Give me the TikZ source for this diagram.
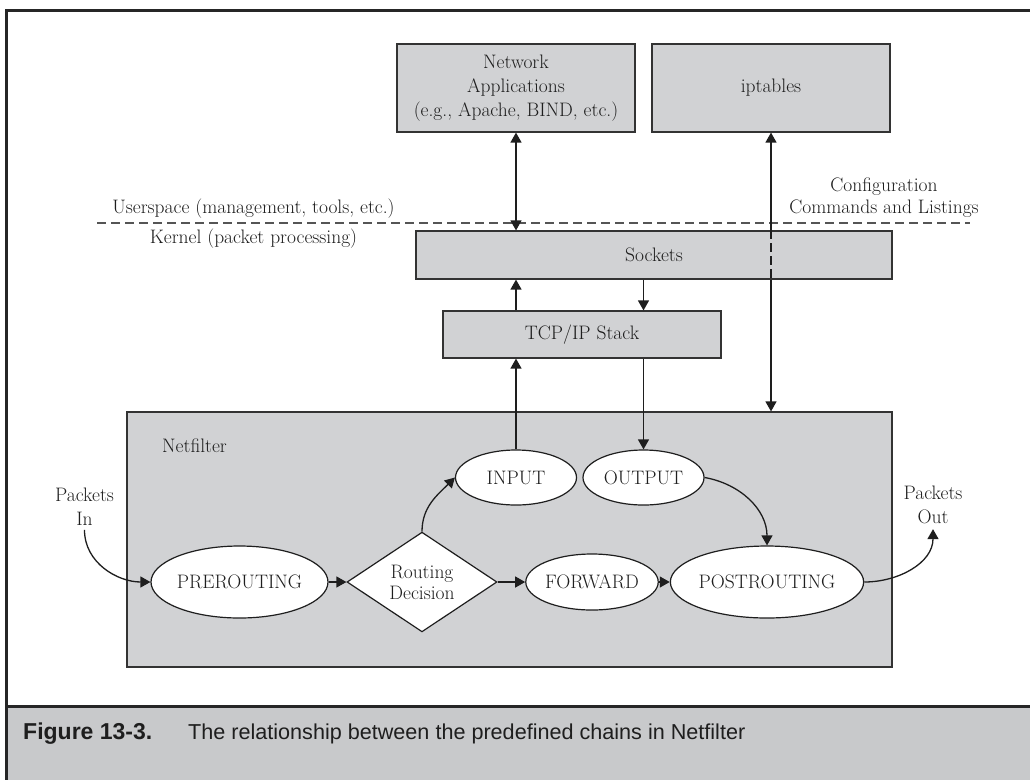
\documentclass[tikz,border=0pt]{standalone}
\usepackage{fontspec}
\newfontfamily\capsans{Liberation Sans}
\usetikzlibrary{shapes.geometric,arrows.meta,calc}
\definecolor{boxgray}{HTML}{D1D2D4}
\definecolor{capgray}{HTML}{C8C9CB}
\definecolor{edge}{HTML}{333333}
\definecolor{ink}{HTML}{1E1E1E}
\definecolor{dashgray}{HTML}{555555}
\begin{document}
\begin{tikzpicture}[x=1pt,y=-1pt,
  every node/.style={font=\fontsize{19.5}{24}\selectfont, text=ink},
  graybox/.style={draw=edge, line width=1.2pt, fill=boxgray, rectangle, inner sep=0pt, align=center},
  chainnode/.style={draw=ink, line width=1.2pt, fill=white, ellipse, inner sep=0pt},
  decision/.style={draw=ink, line width=1.2pt, fill=white, diamond, inner sep=0pt, align=center},
  conn/.style={draw=ink, line width=1.3pt, -{Triangle[length=10pt,width=11pt]}},
  biconn/.style={draw=ink, line width=1.3pt, {Triangle[length=10pt,width=11pt]}-{Triangle[length=10pt,width=11pt]}},
  frameline/.style={draw=black!85, line width=3pt, line join=miter},
  lbl/.style={align=center, inner sep=0pt},
]
\useasboundingbox (0,0) rectangle (1030,780);
\fill[white] (0,0) rectangle (1030,780);
% caption band and frame
\fill[capgray] (6,706) rectangle (1030,780);
\draw[frameline] (1030,10) -- (6,10) -- (6,780);
\draw[frameline] (6,706) -- (1030,706);

% boxes
\node[graybox, minimum width=238pt, minimum height=88pt] (na) at (516,88)
  {Network\\Applications\\(e.g., Apache, BIND, etc.)};
\node[graybox, minimum width=238pt, minimum height=88pt] (ipt) at (771,88) {iptables};
\node[graybox, minimum width=476pt, minimum height=48pt] (sock) at (654,255) {Sockets};
\node[graybox, minimum width=278pt, minimum height=47pt] (tcp) at (582,334.5) {TCP/IP Stack};
\node[graybox, minimum width=765pt, minimum height=255pt] (netf) at (509.5,539.5) {};
\node[lbl, anchor=base west] (netflbl) at (162,452) {Netfilter};

% chains
\node[chainnode, minimum width=121pt, minimum height=55pt] (input) at (516,477.5) {INPUT};
\node[chainnode, minimum width=121pt, minimum height=55pt] (output) at (643.5,477.5) {OUTPUT};
\node[chainnode, minimum width=161pt, minimum height=72pt] (pre) at (239.5,582) {PREROUTING};
\node[decision, minimum width=150pt, minimum height=88pt, font=\fontsize{19.5}{21}\selectfont] (rd) at (422,582) {Routing\\Decision};
\node[chainnode, minimum width=132pt, minimum height=56pt] (fwd) at (592,582) {FORWARD};
\node[chainnode, minimum width=162pt, minimum height=72pt] (post) at (767,582) {POSTROUTING};

% free labels
\node[lbl, anchor=base] (usp) at (253.5,213) {Userspace (management, tools, etc.)};
\node[lbl, anchor=base] (kern) at (253.5,243) {Kernel (packet processing)};
\node[lbl, font=\fontsize{19.5}{22}\selectfont] (conf) at (884,198) {Configuration\\Commands and Listings};
\node[lbl, inner sep=4pt] (pin) at (84.5,507) {Packets\\In};
\node[lbl, inner sep=5pt] (pout) at (933,505) {Packets\\Out};

% user/kernel boundary
\coordinate (dl) at (97,223);
\coordinate (dr) at (970,223);
\draw[dashgray, line width=1.3pt, dash pattern=on 9pt off 5pt] (dl) -- (dr);

% connectors
\draw[biconn] (na.south) -- (na.south |- sock.north);
\draw[conn] (tcp.north -| input.north) -- (sock.south -| input.north);
\draw[conn] (sock.south -| output.north) -- (tcp.north -| output.north);
\draw[conn] (input.north) -- (input.north |- tcp.south);
\draw[conn] (tcp.south -| output.north) -- (output.north);

\draw[draw=ink, line width=1.3pt, {Triangle[length=10pt,width=11pt]}-] (ipt.south) -- (ipt.south |- sock.north);
\draw[draw=ink, line width=1.3pt, dash pattern=on 9pt off 4pt] (ipt.south |- sock.north) -- (ipt.south |- sock.south);
\draw[conn] (ipt.south |- sock.south) -- (ipt.south |- netf.north);

\draw[conn] (pin.south) to[out=-90,in=180] (pre.west);
\draw[conn] (pre.east) -- (rd.west);
\draw[conn] (rd.east) -- (fwd.west);
\draw[conn] (fwd.east) -- (post.west);
\draw[conn] (rd.north) to[out=90,in=-135] (input.west);
\draw[conn] (output.east) to[out=-10,in=90] (post.north);
\draw[conn] (post.east) to[out=0,in=-90] (pout.south);

% caption
\node[anchor=base west, inner sep=0pt, font=\capsans\bfseries\fontsize{23}{26}\selectfont] (fig) at (23,739) {Figure 13-3.};
\node[anchor=base west, inner sep=0pt, font=\capsans\fontsize{21.6}{26}\selectfont] (cap) at (188,739) {The relationship between the predefined chains in Netfilter};
\end{tikzpicture}
\end{document}
